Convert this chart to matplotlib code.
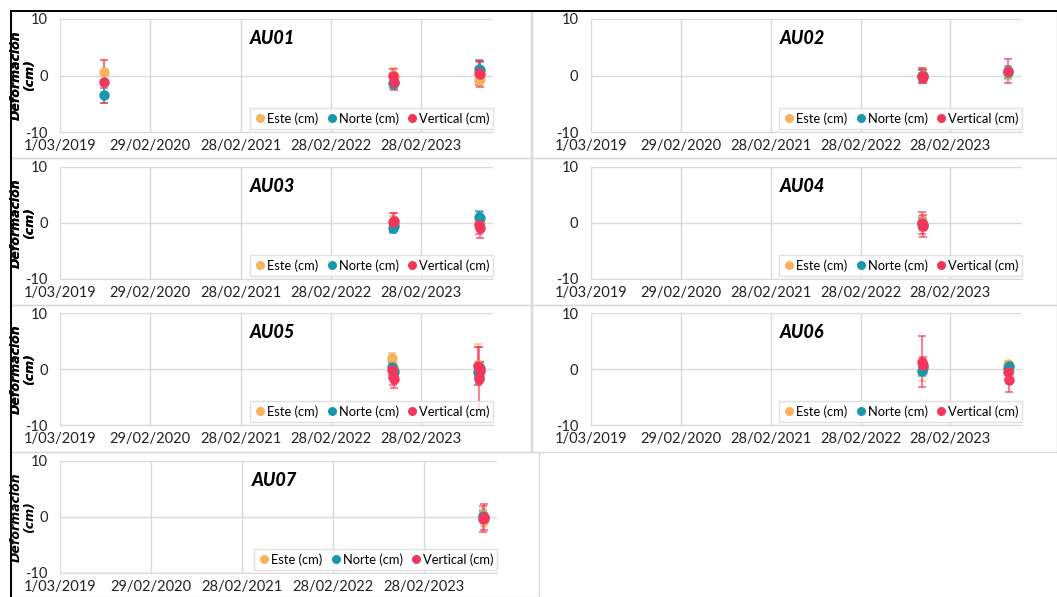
import matplotlib
matplotlib.use("Agg")
import matplotlib.pyplot as plt
import matplotlib.dates as mdates
from matplotlib.patches import Rectangle
from matplotlib.lines import Line2D
import datetime as dt

# ---- data -------------------------------------------------------------
stations = ["AU01", "AU02", "AU03", "AU04", "AU05", "AU06", "AU07"]

au01_dates = ["2019-08-26", "2022-11-06", "2022-11-10", "2023-10-20", "2023-10-24"]
au01_este = [0.7, 0.1, 0.0, -0.8, -0.7]
au01_norte = [-3.5, -1.3, -1.4, 1.2, 1.0]
au01_vertical = [-1.1, 0.0, -1.2, 0.5, 0.3]
au01_este_err = [2.0, 1.2, 1.2, 0.7, 0.7]
au01_norte_err = [1.3, 1.0, 1.0, 1.4, 1.4]
au01_vertical_err = [3.8, 1.2, 1.3, 2.25, 2.3]

au02_dates = ["2022-11-06", "2022-11-10", "2023-10-20"]
au02_este = [-0.1, 0.1, 0.4]
au02_norte = [0.0, -0.1, 0.6]
au02_vertical = [0.0, -0.2, 0.8]
au02_este_err = [1.2, 1.2, 1.0]
au02_norte_err = [1.0, 1.0, 1.0]
au02_vertical_err = [1.3, 1.2, 2.05]

au03_dates = ["2022-11-06", "2022-11-10", "2023-10-20", "2023-10-24"]
au03_este = [0.2, 0.0, 0.2, 0.0]
au03_norte = [-0.9, -0.6, 1.1, 0.9]
au03_vertical = [0.1, 0.4, -0.4, -0.9]
au03_este_err = [1.0, 1.0, 1.0, 1.0]
au03_norte_err = [0.8, 0.8, 1.0, 1.0]
au03_vertical_err = [1.7, 1.4, 1.6, 1.7]

au04_dates = ["2022-11-06", "2022-11-10"]
au04_este = [0.1, -0.2]
au04_norte = [-0.1, -0.3]
au04_vertical = [0.0, -0.5]
au04_este_err = [1.2, 1.2]
au04_norte_err = [1.0, 1.0]
au04_vertical_err = [1.9, 2.0]

au05_dates = ["2022-11-04", "2022-11-07", "2022-11-10", "2023-10-18", "2023-10-21", "2023-10-24"]
au05_este = [1.9, 0.3, -0.2, 0.8, 0.4, -0.2]
au05_norte = [0.3, -0.1, -0.6, -0.6, -1.5, 0.2]
au05_vertical = [-0.2, -1.2, -1.7, 0.5, -1.7, -0.3]
au05_este_err = [1.0, 1.0, 1.0, 3.7, 1.0, 1.0]
au05_norte_err = [1.0, 1.0, 1.0, 1.0, 1.0, 1.0]
au05_vertical_err = [1.5, 1.6, 1.7, 3.4, 5.6, 1.5]

au06_dates = ["2022-11-06", "2022-11-10", "2023-10-20", "2023-10-24"]
au06_este = [-0.3, 0.2, 0.9, -0.4]
au06_norte = [-0.3, 0.4, 0.1, 0.5]
au06_vertical = [1.3, 0.7, -0.6, -1.9]
au06_este_err = [1.8, 1.0, 0.6, 0.6]
au06_norte_err = [1.0, 1.0, 0.7, 0.7]
au06_vertical_err = [4.6, 1.5, 1.2, 2.2]

au07_dates = ["2023-10-20", "2023-10-24"]
au07_este = [0.4, -0.6]
au07_norte = [0.2, -0.1]
au07_vertical = [-0.35, 0.0]
au07_este_err = [1.0, 1.0]
au07_norte_err = [0.8, 0.8]
au07_vertical_err = [2.4, 2.3]

tick_dates = ["2019-03-01", "2020-02-29", "2021-02-28", "2022-02-28", "2023-02-28"]
tick_labels = ["1/03/2019", "29/02/2020", "28/02/2021", "28/02/2022", "28/02/2023"]
x_start, x_end = "2019-03-01", "2023-12-16"
y_ticks = [-10, 0, 10]

series_names = ["Este (cm)", "Norte (cm)", "Vertical (cm)"]
series_colors = ["#F9B35B", "#1A97AB", "#F5365C"]

station_data = {
    "AU01": (au01_dates, [au01_este, au01_norte, au01_vertical],
             [au01_este_err, au01_norte_err, au01_vertical_err]),
    "AU02": (au02_dates, [au02_este, au02_norte, au02_vertical],
             [au02_este_err, au02_norte_err, au02_vertical_err]),
    "AU03": (au03_dates, [au03_este, au03_norte, au03_vertical],
             [au03_este_err, au03_norte_err, au03_vertical_err]),
    "AU04": (au04_dates, [au04_este, au04_norte, au04_vertical],
             [au04_este_err, au04_norte_err, au04_vertical_err]),
    "AU05": (au05_dates, [au05_este, au05_norte, au05_vertical],
             [au05_este_err, au05_norte_err, au05_vertical_err]),
    "AU06": (au06_dates, [au06_este, au06_norte, au06_vertical],
             [au06_este_err, au06_norte_err, au06_vertical_err]),
    "AU07": (au07_dates, [au07_este, au07_norte, au07_vertical],
             [au07_este_err, au07_norte_err, au07_vertical_err]),
}

# ---- layout (pixels) --------------------------------------------------
W, H = 1057, 597
plt.rcParams["font.family"] = ["Lato", "DejaVu Sans"]

fig = plt.figure(figsize=(W / 100, H / 100), dpi=100)
fig.patch.set_facecolor("white")

# chart frames: (x0, y0, x1, y1)
frames = [
    (11, 11, 531, 158), (532, 11, 1057, 158),
    (11, 158, 531, 305), (532, 158, 1057, 305),
    (11, 305, 531, 452), (532, 305, 1057, 452),
    (11, 452, 539, 597),
]
# plot areas: (left, right, top, bottom)
plot_areas = [
    (60, 493, 19, 132), (591, 1022, 19, 132),
    (60, 493, 167, 279), (591, 1022, 167, 279),
    (60, 493, 313, 425), (591, 1022, 313, 425),
    (60, 497, 461, 573),
]


def px_rect(x0, y0, x1, y1):
    return [x0 / W, 1 - y1 / H, (x1 - x0) / W, (y1 - y0) / H]


bg = fig.add_axes([0, 0, 1, 1], zorder=-5)
bg.set_xlim(0, W)
bg.set_ylim(H, 0)
bg.axis("off")
for (x0, y0, x1, y1) in frames:
    bg.add_patch(Rectangle((x0, y0), x1 - x0, y1 - y0, fill=False,
                           edgecolor="#D9D9D9", linewidth=1.0))
bg.plot([11, W], [11, 11], color="black", linewidth=1.4)
bg.plot([11, 11], [11, H], color="black", linewidth=1.4)

to_num = lambda s: mdates.date2num(dt.datetime.strptime(s, "%Y-%m-%d"))

for name, (x0, x1, yt, yb) in zip(stations, plot_areas):
    ax = fig.add_axes(px_rect(x0, yt, x1, yb))
    dates, values, errors = station_data[name]
    xs = [to_num(d) for d in dates]
    for vals, errs, color in zip(values, errors, series_colors):
        ax.errorbar(xs, vals, yerr=errs, fmt="none", ecolor=color,
                    elinewidth=1.2, capsize=3, capthick=1.2, alpha=0.75,
                    zorder=3)
    for vals, color in zip(values, series_colors):
        ax.plot(xs, vals, "o", color=color, markersize=7.5,
                markeredgewidth=0, zorder=4)

    ax.set_xlim(to_num(x_start), to_num(x_end))
    ax.set_ylim(-10, 10)
    ax.set_xticks([to_num(d) for d in tick_dates])
    ax.set_xticklabels(tick_labels)
    ax.set_yticks(y_ticks)
    ax.set_yticklabels([str(v) for v in y_ticks])
    ax.tick_params(length=0, labelsize=10.5, colors="#222222")
    ax.tick_params(axis="y", pad=9)
    ax.tick_params(axis="x", pad=5)
    ax.grid(True, color="#D9D9D9", linewidth=1.0)
    ax.set_axisbelow(True)
    for side in ["top", "right", "left"]:
        ax.spines[side].set_visible(False)
    ax.spines["bottom"].set_color("#D9D9D9")

    ax.text(0.49, 0.83, name, transform=ax.transAxes, ha="center",
            va="center", fontsize=13, fontweight="black", style="italic")

    # axis title
    cy = (yt + yb) / 2
    fig.text(23 / W, 1 - cy / H, "Deformación\n(cm)", rotation=90,
             ha="center", va="center", fontsize=9, fontweight="bold",
             style="italic", linespacing=1.05, family="DejaVu Sans")

    handles = [Line2D([], [], marker="o", linestyle="none", color=c,
                      markersize=6.5, markeredgewidth=0) for c in series_colors]
    leg = ax.legend(handles, series_names, loc="lower right",
                    bbox_to_anchor=(1.0, 0.03), ncol=3, frameon=True,
                    fancybox=False, edgecolor="#D9D9D9", fontsize=9.3,
                    handletextpad=0.05, columnspacing=0.5, borderpad=0.3,
                    handlelength=1.0, borderaxespad=0.0)
    leg.get_frame().set_linewidth(1.0)
    leg.set_zorder(5)

fig.savefig("out.png", dpi=100)
